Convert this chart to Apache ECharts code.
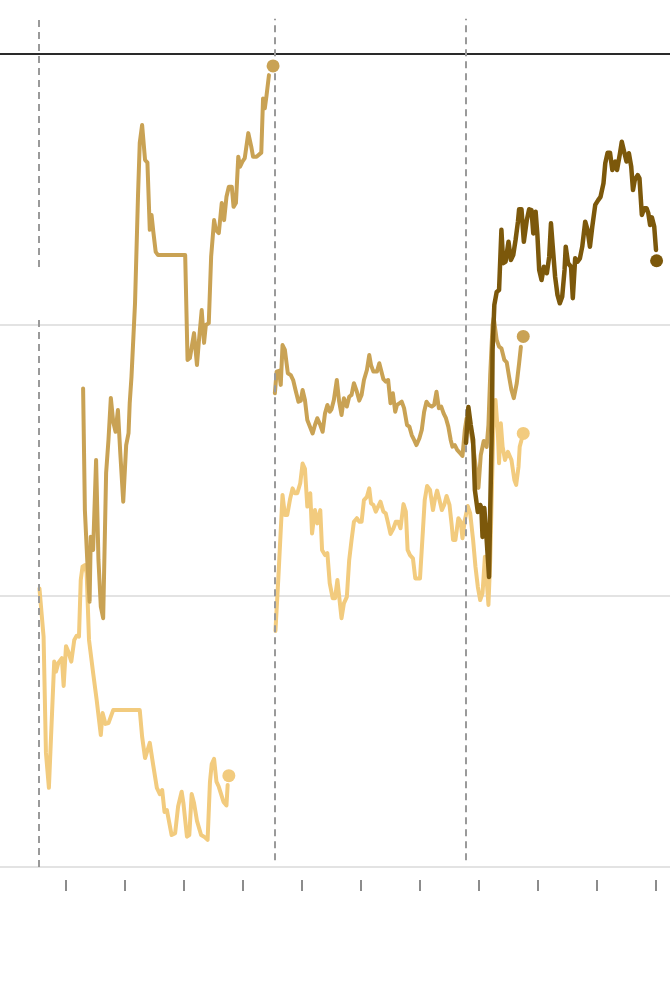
<!DOCTYPE html>
<html>
<head>
<meta charset="utf-8">
<script src="https://cdn.jsdelivr.net/npm/echarts@6/dist/echarts.min.js"></script>
<style>
html,body{margin:0;padding:0;background:#fff;}
#chart{width:670px;height:996px;}
</style>
</head>
<body>
<div id="chart"></div>
<script>
// x: decimal years, y: index level (gridlines at 0/100/200, reference line at 300)
const yearTicks = [2015,2016,2017,2018,2019,2020,2021,2022,2023,2024,2025];
const yTicks = [0,100,200,300];
const dividers = [2014.54, 2018.54, 2021.78];

const lightFirst = [[2014.55,102.8],[2014.62,85.0],[2014.66,42.1],[2014.71,29.2],[2014.80,75.8],[2014.83,72.1],[2014.87,75.3],[2014.93,77.1],[2014.96,66.8],[2015.00,81.5],[2015.04,79.4],[2015.09,75.8],[2015.14,83.8],[2015.18,85.3],[2015.22,85.0],[2015.25,105.9],[2015.28,110.8],[2015.32,111.4],[2015.35,108.5],[2015.39,83.8],[2015.42,84.1],[2015.46,71.6],[2015.52,61.6],[2015.56,54.2],[2015.59,48.7],[2015.62,56.8],[2015.67,52.8],[2015.72,53.1],[2015.80,57.9],[2016.25,57.9],[2016.29,48.1],[2016.34,40.2],[2016.37,40.7],[2016.42,45.8],[2016.48,37.3],[2016.54,29.2],[2016.59,26.9],[2016.63,28.4],[2016.67,20.3],[2016.71,21.0],[2016.79,11.8],[2016.85,12.5],[2016.90,22.3],[2016.96,27.8],[2016.99,23.6],[2017.05,11.2],[2017.09,11.8],[2017.13,26.9],[2017.17,23.6],[2017.22,17.0],[2017.25,16.3],[2017.29,11.8],[2017.34,11.2],[2017.40,10.0],[2017.44,31.4],[2017.47,38.0],[2017.51,39.9],[2017.55,31.5],[2017.59,29.6],[2017.62,29.5],[2017.67,24.0],[2017.72,22.7],[2017.74,30.3]];
const lightFirstEnd = [2017.76,33.7];

const midFirst = [[2015.29,176.6],[2015.32,131.7],[2015.36,113.3],[2015.40,97.9],[2015.42,121.9],[2015.46,117.0],[2015.51,150.2],[2015.55,113.3],[2015.59,96.1],[2015.63,91.8],[2015.68,145.4],[2015.72,157.6],[2015.76,173.1],[2015.80,164.3],[2015.84,160.6],[2015.88,168.6],[2015.92,152.8],[2015.97,134.8],[2016.02,155.7],[2016.06,160.1],[2016.08,171.2],[2016.11,180.9],[2016.17,208.1],[2016.22,247.3],[2016.25,267.2],[2016.29,273.8],[2016.34,260.9],[2016.38,259.9],[2016.42,235.1],[2016.45,240.6],[2016.48,234.4],[2016.52,227.0],[2016.56,225.8],[2017.02,225.8],[2017.06,187.1],[2017.10,187.8],[2017.17,197.0],[2017.22,185.2],[2017.25,193.4],[2017.30,205.5],[2017.34,193.4],[2017.37,200.0],[2017.42,200.7],[2017.46,225.2],[2017.51,238.7],[2017.54,235.1],[2017.59,233.9],[2017.64,245.0],[2017.68,238.7],[2017.72,247.3],[2017.76,251.0],[2017.81,251.0],[2017.84,243.6],[2017.88,245.0],[2017.92,262.1],[2017.95,258.4],[2017.99,260.3],[2018.03,261.6],[2018.09,270.8],[2018.14,265.8],[2018.17,262.1],[2018.23,262.1],[2018.31,263.6],[2018.34,283.6],[2018.37,280.0],[2018.40,284.9],[2018.44,292.2]];
const midFirstEnd = [2018.51,295.6];

const midSecond = [[2018.54,174.8],[2018.57,182.8],[2018.61,183.1],[2018.64,177.9],[2018.67,192.6],[2018.71,190.8],[2018.76,182.2],[2018.81,181.5],[2018.85,179.7],[2018.89,176.0],[2018.94,171.7],[2018.98,172.1],[2019.01,176.0],[2019.05,172.3],[2019.09,164.9],[2019.12,164.3],[2019.18,160.0],[2019.22,163.1],[2019.26,165.6],[2019.31,163.1],[2019.35,160.6],[2019.39,167.4],[2019.43,170.5],[2019.47,168.0],[2019.50,168.9],[2019.54,172.3],[2019.59,179.7],[2019.63,171.7],[2019.67,166.8],[2019.71,173.0],[2019.76,169.9],[2019.80,173.5],[2019.84,174.2],[2019.88,178.5],[2019.93,175.4],[2019.97,172.1],[2020.01,174.2],[2020.05,179.7],[2020.10,183.4],[2020.14,188.9],[2020.17,185.2],[2020.21,182.8],[2020.27,182.8],[2020.31,185.9],[2020.34,185.6],[2020.38,180.0],[2020.42,179.1],[2020.46,179.7],[2020.50,171.1],[2020.54,174.8],[2020.58,168.0],[2020.61,170.5],[2020.65,171.1],[2020.69,171.7],[2020.73,169.3],[2020.78,163.1],[2020.82,162.5],[2020.86,159.4],[2020.90,157.6],[2020.94,155.7],[2020.99,158.2],[2021.03,161.3],[2021.07,168.0],[2021.11,171.7],[2021.15,170.5],[2021.20,169.9],[2021.24,170.5],[2021.28,175.4],[2021.32,169.3],[2021.36,169.9],[2021.40,167.4],[2021.44,165.6],[2021.48,162.5],[2021.52,157.6],[2021.55,155.1],[2021.59,155.7],[2021.63,153.9],[2021.68,152.7],[2021.72,151.7],[2021.76,161.3],[2021.79,165.6],[2021.85,162.0],[2021.90,155.7],[2021.95,146.5],[2021.99,139.9],[2022.03,152.0],[2022.08,157.2],[2022.13,155.0],[2022.16,163.1],[2022.19,181.5],[2022.23,200.0],[2022.25,202.6],[2022.30,194.5],[2022.34,192.0],[2022.38,191.4],[2022.43,187.1],[2022.47,186.2],[2022.51,180.9],[2022.55,176.0],[2022.59,173.0],[2022.64,178.5],[2022.68,185.9],[2022.71,192.0]];
const midSecondEnd = [2022.75,195.8];

const lightSecond = [[2018.55,87.1],[2018.60,107.0],[2018.67,137.3],[2018.71,129.9],[2018.75,129.9],[2018.80,136.0],[2018.84,139.7],[2018.88,137.9],[2018.92,137.9],[2018.97,141.6],[2019.01,148.9],[2019.05,146.9],[2019.09,133.0],[2019.14,137.9],[2019.17,123.1],[2019.22,131.7],[2019.26,126.8],[2019.31,131.7],[2019.34,117.0],[2019.39,115.1],[2019.43,115.8],[2019.47,104.7],[2019.52,99.2],[2019.56,99.2],[2019.60,105.9],[2019.63,105.9],[2019.67,91.8],[2019.71,97.3],[2019.76,99.7],[2019.80,113.3],[2019.84,120.7],[2019.88,127.4],[2019.93,128.7],[2019.97,127.4],[2020.01,127.4],[2020.05,135.4],[2020.10,136.6],[2020.14,139.7],[2020.17,134.2],[2020.21,133.6],[2020.25,131.1],[2020.29,133.0],[2020.33,134.8],[2020.38,131.1],[2020.42,130.5],[2020.46,126.8],[2020.50,122.9],[2020.55,125.0],[2020.59,127.4],[2020.63,127.4],[2020.67,125.0],[2020.72,133.9],[2020.76,131.1],[2020.79,117.0],[2020.83,115.1],[2020.88,113.9],[2020.92,106.5],[2020.95,105.9],[2021.00,106.5],[2021.05,124.4],[2021.08,135.4],[2021.12,140.6],[2021.17,139.1],[2021.22,131.7],[2021.25,135.4],[2021.29,138.9],[2021.33,135.4],[2021.37,131.7],[2021.41,133.6],[2021.45,136.9],[2021.50,133.6],[2021.54,125.6],[2021.56,120.7],[2021.60,120.7],[2021.65,128.7],[2021.69,127.4],[2021.72,121.3],[2021.76,128.0],[2021.81,133.2],[2021.85,130.6],[2021.90,120.7],[2021.94,110.8],[2021.98,103.4],[2022.02,98.5],[2022.06,101.0],[2022.10,114.5],[2022.13,105.9],[2022.16,96.7],[2022.19,113.3],[2022.22,140.3],[2022.25,168.6],[2022.28,172.3],[2022.32,160.1],[2022.34,149.0],[2022.37,163.7],[2022.40,155.1],[2022.44,150.2],[2022.49,153.2],[2022.51,153.9],[2022.55,150.2],[2022.60,142.8],[2022.63,141.0],[2022.67,147.7],[2022.69,155.1],[2022.72,157.6]];
const lightSecondEnd = [2022.75,160.0];

const darkThird = [[2021.78,156.5],[2021.82,169.7],[2021.86,163.1],[2021.90,157.6],[2021.93,139.1],[2021.98,131.0],[2022.02,133.6],[2022.04,132.5],[2022.06,121.8],[2022.09,132.5],[2022.13,120.7],[2022.17,107.0],[2022.19,131.7],[2022.22,164.9],[2022.23,190.8],[2022.26,207.4],[2022.30,212.2],[2022.34,212.9],[2022.38,235.1],[2022.41,222.8],[2022.45,223.4],[2022.50,230.7],[2022.54,224.0],[2022.58,225.8],[2022.62,231.4],[2022.66,238.1],[2022.68,242.7],[2022.72,242.7],[2022.76,230.7],[2022.81,238.7],[2022.85,242.7],[2022.89,242.4],[2022.92,233.8],[2022.96,241.8],[2022.99,233.2],[2023.02,220.3],[2023.06,216.6],[2023.10,221.5],[2023.15,219.1],[2023.19,225.2],[2023.22,237.5],[2023.25,228.9],[2023.29,217.8],[2023.33,211.1],[2023.37,208.0],[2023.41,210.4],[2023.45,220.3],[2023.47,228.9],[2023.51,222.8],[2023.56,221.5],[2023.59,209.9],[2023.63,224.6],[2023.67,223.4],[2023.71,224.6],[2023.75,228.9],[2023.80,238.1],[2023.84,235.1],[2023.88,228.9],[2023.92,236.3],[2023.97,244.3],[2024.02,246.1],[2024.06,247.3],[2024.11,252.3],[2024.14,259.7],[2024.18,263.6],[2024.22,263.6],[2024.26,257.2],[2024.31,260.3],[2024.34,257.2],[2024.39,263.4],[2024.42,267.6],[2024.46,263.9],[2024.50,260.3],[2024.54,263.4],[2024.58,258.4],[2024.61,249.8],[2024.64,253.5],[2024.69,255.3],[2024.72,254.1],[2024.76,240.6],[2024.80,243.1],[2024.84,243.1],[2024.87,241.2],[2024.90,236.9],[2024.93,239.7],[2024.97,236.3],[2025.00,227.7]];
const darkThirdEnd = [2025.01,223.7];

const LIGHT = '#f2cb7e', MID = '#c9a254', DARK = '#7c580b';
const X_MIN = 2013.8814, X_MAX = 2025.2373, Y_MAX = 313.28;

const chart = echarts.init(document.getElementById('chart'), null, {renderer:'canvas'});

function lineSeries(data, color, width, z) {
  return {type:'line', data:data, showSymbol:false, symbol:'none', smooth:false,
    lineStyle:{color:color, width:width, join:'round', cap:'round'}, z:z, silent:true, animation:false};
}
function dotSeries(pt, color, z) {
  return {type:'scatter', data:[pt], symbol:'circle', symbolSize:13,
    itemStyle:{color:color, opacity:1}, z:z, silent:true, animation:false};
}

const dashStyle = {type:[7,5], color:'#9a9a9a', width:2};

const option = {
  backgroundColor:'#ffffff',
  animation:false,
  grid:{left:0, right:0, top:18, bottom:129, containLabel:false},
  xAxis:{type:'value', min:X_MIN, max:X_MAX, position:'bottom', offset:13,
    axisLine:{show:false, onZero:false}, axisLabel:{show:false}, splitLine:{show:false},
    axisTick:{show:true, inside:false, customValues:yearTicks, length:11, lineStyle:{color:'#8c8c8c', width:2}}},
  yAxis:{type:'value', min:0, max:Y_MAX, interval:100,
    axisLine:{show:false}, axisTick:{show:false}, axisLabel:{show:false},
    splitLine:{show:true, showMinLine:true, showMaxLine:false,
      lineStyle:{color:['#e3e3e3','#e3e3e3','#e3e3e3','#2a2a2a','rgba(0,0,0,0)'], width:2}}},
  series:[
    {type:'line', data:[], clip:false, silent:true,
      markLine:{silent:true, symbol:['none','none'], label:{show:false}, lineStyle:dashStyle, animation:false,
        data:[
          [{coord:[dividers[0],0]},{coord:[dividers[0],203.7]}],
          [{coord:[dividers[0],221.4]},{coord:[dividers[0],313]}],
          [{coord:[dividers[1],2.5]},{coord:[dividers[1],313]}],
          [{coord:[dividers[2],2.5]},{coord:[dividers[2],313]}]
        ]}, z:1},
    lineSeries(lightFirst, LIGHT, 4, 3),
    lineSeries(lightSecond, LIGHT, 4, 3),
    lineSeries(midFirst, MID, 4, 4),
    lineSeries(midSecond, MID, 4, 4),
    lineSeries(darkThird, DARK, 4.5, 5),
    dotSeries(lightFirstEnd, LIGHT, 6),
    dotSeries(lightSecondEnd, LIGHT, 6),
    dotSeries(midFirstEnd, MID, 6),
    dotSeries(midSecondEnd, MID, 6),
    dotSeries(darkThirdEnd, DARK, 6)
  ]
};
chart.setOption(option);
</script>
</body>
</html>
